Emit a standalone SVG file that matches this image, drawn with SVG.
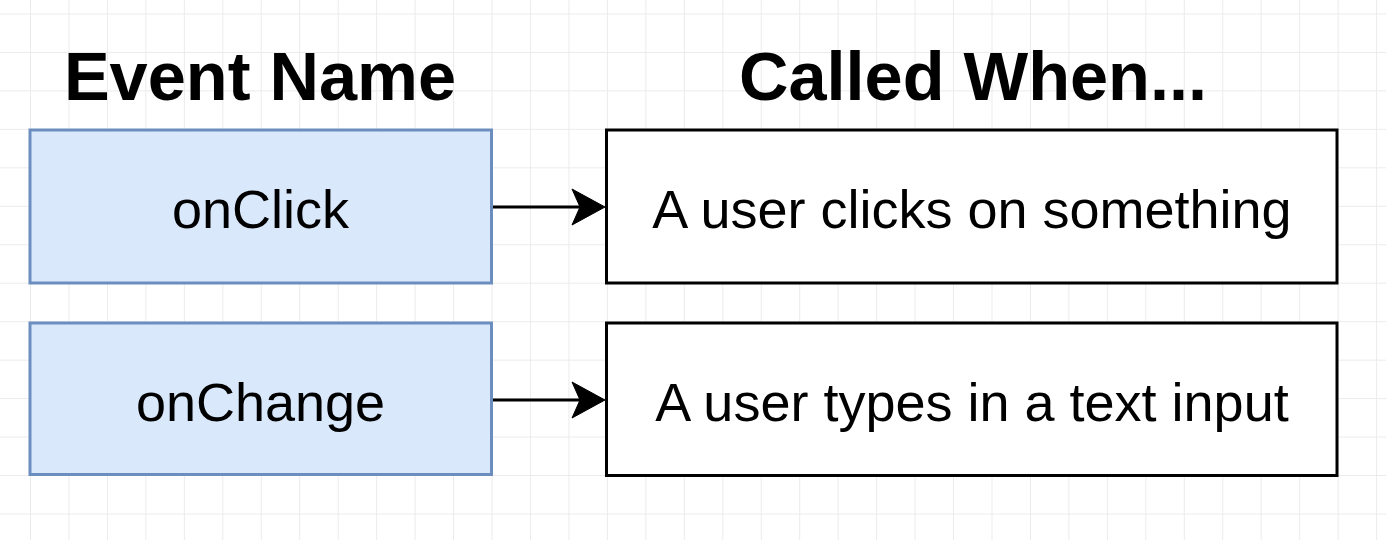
<svg xmlns="http://www.w3.org/2000/svg" width="1386" height="540" viewBox="0 0 1386 540">
  <defs>
    <pattern id="grid" patternUnits="userSpaceOnUse" x="30" y="13.5" width="38.46" height="38.46">
      <path d="M0 0.5 H38.46 M0.5 0 V38.46" fill="none" stroke="#ebebeb" stroke-width="1"/>
    </pattern>
    <style>
      .title { font-family: "Liberation Sans", Arial, sans-serif; font-weight: bold; font-size: 68.5px; fill: #000; text-anchor: middle; }
      .lbl { font-family: "Liberation Sans", Arial, sans-serif; font-size: 54px; fill: #000; text-anchor: middle; }
      .ev { fill: #dae8fc; stroke: #6c8ebf; stroke-width: 3; }
      .wh { fill: #ffffff; stroke: #000000; stroke-width: 3; }
      .edge { stroke: #000; stroke-width: 3; fill: none; }
      .head { fill: #000; stroke: #000; stroke-width: 1; }
    </style>
  </defs>
  <rect x="0" y="0" width="1386" height="540" fill="#ffffff"/>
  <rect x="0" y="0" width="1386" height="540" fill="url(#grid)"/>

  <g id="header-event-name">
    <text class="title" x="260" y="100">Event Name</text>
  </g>
  <g id="header-called-when">
    <text class="title" x="973" y="100">Called When...</text>
  </g>

  <g id="node-onclick">
    <rect class="ev" x="30" y="130" width="461.5" height="153"/>
    <text class="lbl" x="260.5" y="228">onClick</text>
  </g>
  <g id="node-onchange">
    <rect class="ev" x="30" y="323" width="461.5" height="151.5"/>
    <text class="lbl" x="260.5" y="421">onChange</text>
  </g>
  <g id="node-click-desc">
    <rect class="wh" x="606.5" y="130" width="730.5" height="153"/>
    <text class="lbl" x="972" y="228">A user clicks on something</text>
  </g>
  <g id="node-change-desc">
    <rect class="wh" x="606.5" y="323" width="730.5" height="152.5"/>
    <text class="lbl" x="972" y="421">A user types in a text input</text>
  </g>

  <g id="connectors">
    <path class="edge" d="M493 207 H582"/>
    <polygon class="head" points="605,207 572,189 580,207 572,225"/>
    <path class="edge" d="M493 400 H582"/>
    <polygon class="head" points="605,400 572,382 580,400 572,418"/>
  </g>
</svg>
